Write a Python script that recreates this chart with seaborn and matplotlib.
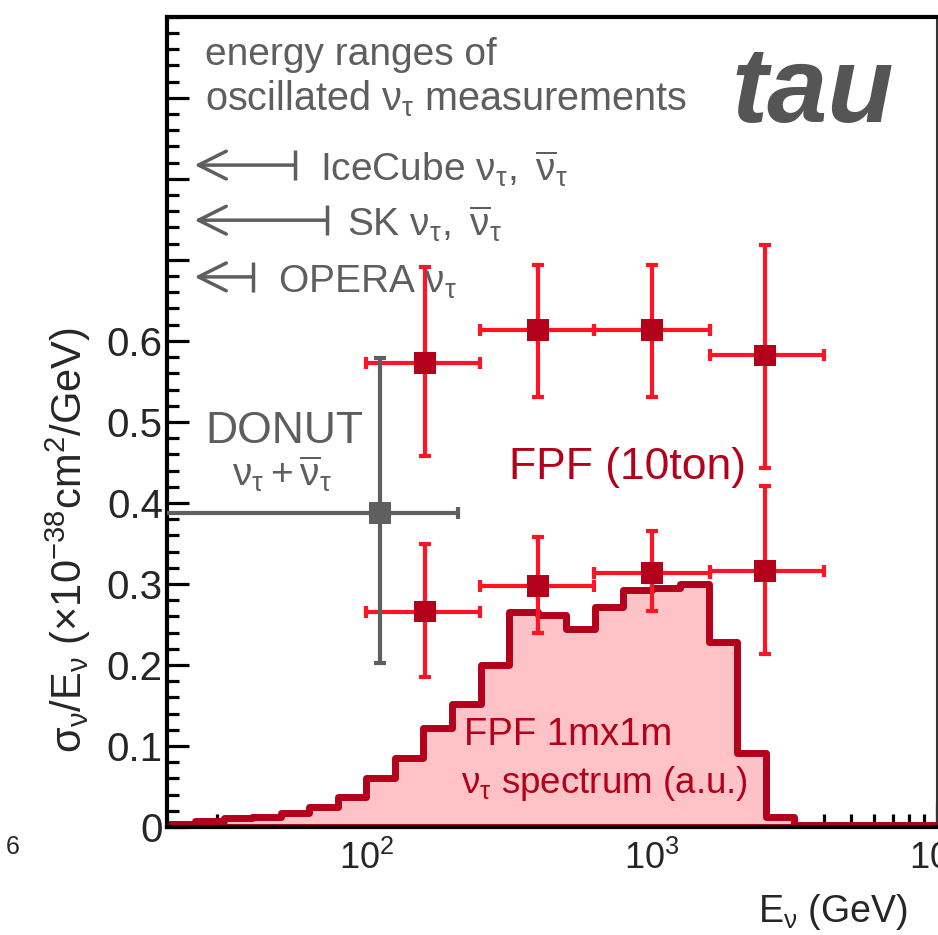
import numpy as np
import matplotlib
matplotlib.use("Agg")
import matplotlib.pyplot as plt
from matplotlib.ticker import FixedLocator, FixedFormatter, NullFormatter, MultipleLocator, LogLocator
import seaborn as sns

# FPF 1mx1m nu_tau spectrum (arbitrary units), 10 log bins per decade from 10^1.3 GeV
spec_log_edges = [1.3 + 0.1 * k for k in range(28)]
spec_heights = [0.004, 0.007, 0.011, 0.012, 0.017, 0.025, 0.037, 0.060, 0.085,
                0.122, 0.152, 0.200, 0.265, 0.262, 0.245, 0.271, 0.293, 0.295,
                0.300, 0.228, 0.091, 0.012, 0.002, 0.002, 0.002, 0.002, 0.002]

# FPF (10ton) projected measurements
fpf_e = [160, 400, 1000, 2500]
fpf_e_lo = [100, 250, 630, 1600]
fpf_e_hi = [250, 630, 1600, 4000]
fpf_a = [0.573, 0.614, 0.614, 0.582]
fpf_a_lo = [0.458, 0.531, 0.531, 0.443]
fpf_a_hi = [0.691, 0.694, 0.694, 0.718]
fpf_b = [0.266, 0.298, 0.314, 0.316]
fpf_b_lo = [0.185, 0.239, 0.267, 0.213]
fpf_b_hi = [0.349, 0.358, 0.365, 0.421]

# DONUT measurement
donut_e, donut_e_lo, donut_e_hi = [112], [10], [210]
donut_v, donut_v_lo, donut_v_hi = [0.387], [0.202], [0.579]

# oscillated nu_tau energy ranges (upper ends, GeV)
osc_names = ["IceCube", "SK", "OPERA"]
osc_emax = [56, 73, 40]

sns.set_style("ticks")
plt.rcParams["font.family"] = ["Liberation Sans", "DejaVu Sans"]
plt.rcParams["mathtext.fontset"] = "custom"
plt.rcParams["mathtext.rm"] = "Liberation Sans"
plt.rcParams["mathtext.it"] = "Liberation Sans:italic"

RED = "#ff1426"
DARK = "#b3001b"
GREY = "#5f5f5f"
TXT = "#5e5e5e"

fig = plt.figure(figsize=(9.38, 9.35), dpi=100)
ax = fig.add_axes([0.178, 0.1155, 0.821, 0.8665])

centers = [10 ** (e + 0.05) for e in spec_log_edges[:-1]]
sns.histplot(x=centers, weights=spec_heights, bins=spec_log_edges, log_scale=True,
             element="step", fill=True, facecolor="#ffc3c7", edgecolor=DARK,
             linewidth=5, ax=ax, zorder=1)


def bars(x, xlo, xhi, y, ylo, yhi, color, mcolor):
    x, xlo, xhi = np.array(x), np.array(xlo), np.array(xhi)
    y, ylo, yhi = np.array(y), np.array(ylo), np.array(yhi)
    ax.errorbar(x, y, xerr=[x - xlo, xhi - x], yerr=[y - ylo, yhi - y], fmt="none",
                ecolor=color, elinewidth=3, capsize=4.5, capthick=3, zorder=3)
    sns.scatterplot(x=x, y=y, marker="s", s=250, color=mcolor, edgecolor="none",
                    ax=ax, zorder=4)


bars(fpf_e, fpf_e_lo, fpf_e_hi, fpf_a, fpf_a_lo, fpf_a_hi, RED, DARK)
bars(fpf_e, fpf_e_lo, fpf_e_hi, fpf_b, fpf_b_lo, fpf_b_hi, RED, DARK)
bars(donut_e, donut_e_lo, donut_e_hi, donut_v, donut_v_lo, donut_v_hi, GREY, GREY)

ax.set_xscale("log")
ax.set_xlim(20, 1e4)
ax.set_ylim(0, 1.0)
ax.set_xlabel("")
ax.set_ylabel("")

# axes ticks
ax.xaxis.set_major_locator(FixedLocator([1e2, 1e3, 1e4]))
ax.xaxis.set_major_formatter(FixedFormatter([r"$\mathregular{10^2}$", r"$\mathregular{10^3}$",
                                             r"$\mathregular{10^4}$"]))
ax.xaxis.set_minor_locator(LogLocator(base=10, subs=np.arange(2, 10), numticks=20))
ax.xaxis.set_minor_formatter(NullFormatter())
yt = [round(0.1 * k, 1) for k in range(10)]
ax.yaxis.set_major_locator(FixedLocator(yt))
ax.yaxis.set_major_formatter(FixedFormatter(["0", "0.1", "0.2", "0.3", "0.4", "0.5", "0.6",
                                             "", "", ""]))
ax.yaxis.set_minor_locator(MultipleLocator(0.02))
ax.tick_params(axis="both", which="both", direction="in", width=2.3, color="black",
               top=False, right=False)
ax.tick_params(axis="y", which="major", length=16, pad=3, labelsize=29)
ax.tick_params(axis="y", which="minor", length=8.5)
ax.tick_params(axis="x", which="major", length=18, pad=10, labelsize=26)
ax.tick_params(axis="x", which="minor", length=9.5)
for side in ["left", "bottom", "top"]:
    ax.spines[side].set_linewidth(3)
    ax.spines[side].set_color("black")
ax.spines["right"].set_linewidth(1.5)
ax.spines["right"].set_color("#333333")
ax.spines["right"].set_visible(True)
ax.spines["top"].set_visible(True)

# oscillated measurements ranges
ax.text(27.1, 0.940, "energy ranges of", fontsize=28, color=TXT, va="baseline")
ax.text(27.1, 0.884, r"oscillated $\mathregular{ν_τ}$ measurements", fontsize=28.5,
        color=TXT, va="baseline")
arrow_y = [0.817, 0.749, 0.679]
label_x = [68.5, 85.8, 48.9]
label_txt = [r"IceCube $\mathregular{ν_τ,\ \overline{ν}_τ}$",
             r"SK $\mathregular{ν_τ,\ \overline{ν}_τ}$",
             r"OPERA $\mathregular{ν_τ}$"]
for emax, yy, lx, lt in zip(osc_emax, arrow_y, label_x, label_txt):
    ax.annotate("", xy=(25, yy), xytext=(emax, yy),
                arrowprops=dict(arrowstyle="->,head_length=1.0,head_width=0.5",
                                mutation_scale=20, color=TXT, lw=2.5,
                                shrinkA=0, shrinkB=0))
    ax.plot([emax], [yy], marker="|", ms=22, mew=2.5, color=TXT, zorder=2)
    ax.text(lx, yy - 0.019, lt, fontsize=28, color=TXT, va="baseline")

ax.text(1905, 0.870, "tau", fontsize=78, fontweight="bold", fontstyle="italic",
        color="#555555", va="baseline")
ax.text(51.6, 0.474, "DONUT", fontsize=32, color=TXT, ha="center", va="baseline")
ax.text(50.5, 0.421, r"$\mathregular{ν_τ+\overline{ν}_τ}$", fontsize=28, color=TXT,
        ha="center", va="baseline")
ax.text(316, 0.429, "FPF (10ton)", fontsize=32, color=DARK, va="baseline")
ax.text(220, 0.101, "FPF 1mx1m", fontsize=27.5, color=DARK, va="baseline")
ax.text(215, 0.042, r"$\mathregular{ν_τ}$ spectrum (a.u.)", fontsize=26.5, color=DARK,
        va="baseline")

fig.text(0.968, 0.014, r"$\mathregular{E_ν}$ (GeV)", fontsize=27, ha="right",
         va="baseline")
fig.text(0.073, 0.422, r"$\mathregular{σ_ν/E_ν\ (×10^{-38}cm^2/GeV)}$", fontsize=30,
         rotation=90, ha="center", va="center")
fig.text(0.006, 0.094, "6", fontsize=18, va="center")

fig.savefig("out.png", dpi=100, facecolor="white")
